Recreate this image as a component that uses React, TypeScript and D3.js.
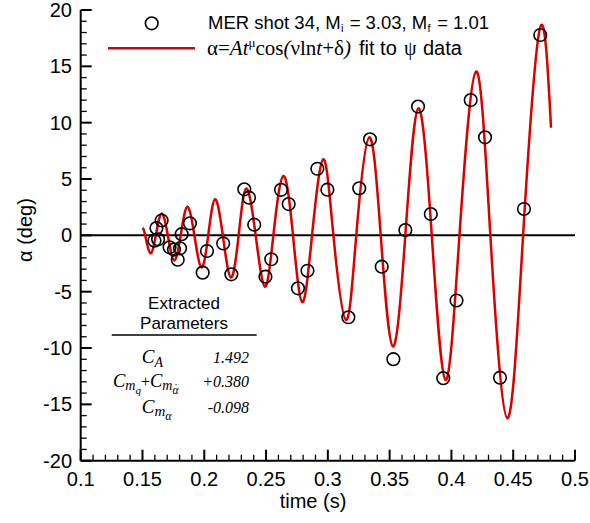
import React from 'react';
import * as d3 from 'd3';

// ---- data ----
const xTickValues = [0.1, 0.15, 0.2, 0.25, 0.3, 0.35, 0.4, 0.45, 0.5];
const xTickLabels = ['0.1', '0.15', '0.2', '0.25', '0.3', '0.35', '0.4', '0.45', '0.5'];
const yTickValues = [-20, -15, -10, -5, 0, 5, 10, 15, 20];
const yTickLabels = ['-20', '-15', '-10', '-5', '0', '5', '10', '15', '20'];

// measured angle of attack (circles)
const measT = [0.1597, 0.1613, 0.1626, 0.1655, 0.1719, 0.1755, 0.1785, 0.1804, 0.1817, 0.1884,
  0.1987, 0.2022, 0.2153, 0.2219, 0.2324, 0.2362, 0.2404, 0.2495, 0.2542, 0.2621,
  0.2683, 0.2758, 0.2835, 0.2915, 0.2996, 0.3166, 0.3254, 0.3341, 0.3436, 0.3530,
  0.3627, 0.3730, 0.3833, 0.3934, 0.4041, 0.4156, 0.4272, 0.4393, 0.4587, 0.4719];
const measAlpha = [-0.47, 0.65, -0.35, 1.32, -1.06, -1.26, -2.16, -1.15, 0.10, 1.07,
  -3.31, -1.39, -0.72, -3.46, 4.09, 3.34, 0.95, -3.67, -2.12, 4.04,
  2.78, -4.70, -3.14, 5.91, 4.05, -7.27, 4.17, 8.52, -2.78, -10.99,
  0.47, 11.43, 1.89, -12.68, -5.78, 12.01, 8.70, -12.63, 2.34, 17.78];

// fitted curve, read at extrema and zero crossings
const fitT = [0.1502, 0.1522, 0.1563, 0.1608, 0.1655, 0.1705, 0.1757, 0.1809, 0.1863, 0.1920,
  0.1978, 0.2032, 0.2087, 0.2150, 0.2216, 0.2278, 0.2340, 0.2416, 0.2491, 0.2559,
  0.2640, 0.2718, 0.2793, 0.2872, 0.2963, 0.3045, 0.3147, 0.3230, 0.3335, 0.3428,
  0.3526, 0.3627, 0.3732, 0.3841, 0.3952, 0.4065, 0.4199, 0.4315, 0.4452, 0.4580,
  0.4717, 0.4806];
const fitAlpha = [0.68, 0, -1.59, 0, 1.94, 0, -2.23, 0, 2.53, 0,
  -2.85, 0, 3.20, 0, -3.74, 0, 4.16, 0, -4.56, 0,
  5.27, 0, -5.94, 0, 6.75, 0, -7.51, 0, 8.70, 0,
  -9.86, 0, 11.27, 0, -12.84, 0, 14.54, 0, -16.23, 0,
  18.4, 9.55];

const paramValues = ['1.492', '+0.380', '-0.098'];

const SANS = '"Liberation Sans", Arial, Helvetica, sans-serif';
const SERIF = '"Liberation Serif", "Times New Roman", Times, serif';

export default function App() {
  const W = 590, H = 523;
  const x = d3.scaleLinear().domain([0.1, 0.5]).range([80.7, 575]);
  const y = d3.scaleLinear().domain([-20, 20]).range([460.7, 10]);

  const fitData = fitT.map((t, i) => [t, fitAlpha[i]] as [number, number]);
  const line = d3.line<[number, number]>()
    .x(d => x(d[0]))
    .y(d => y(d[1]))
    .curve(d3.curveNatural);

  const xMinor = d3.range(0.1, 0.5001, 0.01).filter(v => Math.abs(v * 20 - Math.round(v * 20)) > 1e-6);
  const yMinor = d3.range(-20, 20.001, 1).filter(v => v % 5 !== 0);

  const x0 = x(0.1), x1 = x(0.5), yb = y(-20), yt = y(20);

  return (
    <svg width={W} height={H} style={{ position: 'absolute', left: 0, top: 0, background: '#fff' }}>
      <rect x={0} y={0} width={W} height={H} fill="#fff" />
      {/* zero line */}
      <line x1={x0} x2={x1} y1={y(0)} y2={y(0)} stroke="#000" strokeWidth={2} />
      {/* fit curve */}
      <path d={line(fitData) || ''} fill="none" stroke="#d90000" strokeWidth={2.5} />
      {/* measured points */}
      {measT.map((t, i) => (
        <circle key={i} cx={x(t)} cy={y(measAlpha[i])} r={6.3} fill="none" stroke="#000" strokeWidth={1.6} />
      ))}
      {/* axes */}
      <line x1={x0} x2={x0} y1={yt} y2={yb} stroke="#000" strokeWidth={2} />
      <line x1={x0} x2={x1} y1={yb} y2={yb} stroke="#000" strokeWidth={2} />
      {yTickValues.map((v, i) => (
        <g key={'yt' + i}>
          <line x1={x0} x2={x0 + 11} y1={y(v)} y2={y(v)} stroke="#000" strokeWidth={2} />
          <text x={72} y={y(v) + 7} textAnchor="end" fontFamily={SANS} fontSize={20}>{yTickLabels[i]}</text>
        </g>
      ))}
      {yMinor.map((v, i) => (
        <line key={'ym' + i} x1={x0} x2={x0 + 6} y1={y(v)} y2={y(v)} stroke="#000" strokeWidth={1.3} />
      ))}
      {xTickValues.map((v, i) => (
        <g key={'xt' + i}>
          <line x1={x(v)} x2={x(v)} y1={yb} y2={yb - 11} stroke="#000" strokeWidth={2} />
          <text x={x(v)} y={486} textAnchor="middle" fontFamily={SANS} fontSize={20}>{xTickLabels[i]}</text>
        </g>
      ))}
      {xMinor.map((v, i) => (
        <line key={'xm' + i} x1={x(v)} x2={x(v)} y1={yb} y2={yb - 6} stroke="#000" strokeWidth={1.3} />
      ))}
      {/* axis titles */}
      <text x={313} y={508} textAnchor="middle" fontFamily={SANS} fontSize={20}>time (s)</text>
      <text transform="translate(32,230) rotate(-90)" textAnchor="middle" fontFamily={SANS} fontSize={20}>α (deg)</text>

      {/* legend line 1 */}
      <circle cx={151.7} cy={23.3} r={6.3} fill="none" stroke="#000" strokeWidth={1.6} />
      <g fontFamily={SANS} fontSize={18.5}>
        <text x={208} y={29}>MER shot 34, M</text>
        <text x={341} y={32} fontSize={11}>i</text>
        <text x={344.5} y={29} style={{ whiteSpace: 'pre' }}> = 3.03, M</text>
        <text x={427.5} y={32} fontSize={11}>f</text>
        <text x={432} y={29} style={{ whiteSpace: 'pre' }}> = 1.01</text>
      </g>
      {/* legend line 2 */}
      <line x1={108} x2={195} y1={48.3} y2={48.3} stroke="#d90000" strokeWidth={2.5} />
      <text x={207} y={55} fontFamily={SERIF} fontSize={21}>
        α=<tspan fontStyle="italic">At</tspan><tspan fontSize={13} dy={-8}>μ</tspan><tspan dy={8}>cos</tspan><tspan fontStyle="italic">(</tspan>νln<tspan fontStyle="italic">t</tspan>+δ<tspan fontStyle="italic">)</tspan>
      </text>
      <text x={359} y={55} fontFamily={SANS} fontSize={20}>fit to</text>
      <text x={404} y={55} fontFamily={SERIF} fontSize={20}>ψ</text>
      <text x={423} y={55} fontFamily={SANS} fontSize={20}>data</text>

      {/* parameter table */}
      <text x={184} y={309} textAnchor="middle" fontFamily={SANS} fontSize={17}>Extracted</text>
      <text x={184} y={329} textAnchor="middle" fontFamily={SANS} fontSize={17}>Parameters</text>
      <line x1={111.7} x2={256.7} y1={335} y2={335} stroke="#000" strokeWidth={1.3} />
      <text x={141.7} y={363} fontFamily={SERIF} fontStyle="italic" fontSize={19}>
        C<tspan fontSize={14} dy={4}>A</tspan>
      </text>
      <text x={113} y={387} fontFamily={SERIF} fontStyle="italic" fontSize={18.5}>
        C<tspan fontSize={14} dy={3}>m</tspan><tspan fontSize={11} dy={4}>q</tspan><tspan fontStyle="normal" fontSize={16} dy={-7}>+</tspan>C<tspan fontSize={14} dy={3}>m</tspan><tspan fontSize={11.5} dy={4}>α</tspan><tspan fontSize={12} fontStyle="normal" dx={-4.5} dy={-2.5}>˙</tspan>
      </text>
      <text x={141.7} y={413} fontFamily={SERIF} fontStyle="italic" fontSize={19}>
        C<tspan fontSize={15} dy={3}>m</tspan><tspan fontSize={12} dy={4}>α</tspan>
      </text>
      {paramValues.map((v, i) => (
        <text key={'pv' + i} x={249} y={[363, 387, 413][i]} textAnchor="end" fontFamily={SERIF} fontStyle="italic" fontSize={16}>{v}</text>
      ))}
    </svg>
  );
}
